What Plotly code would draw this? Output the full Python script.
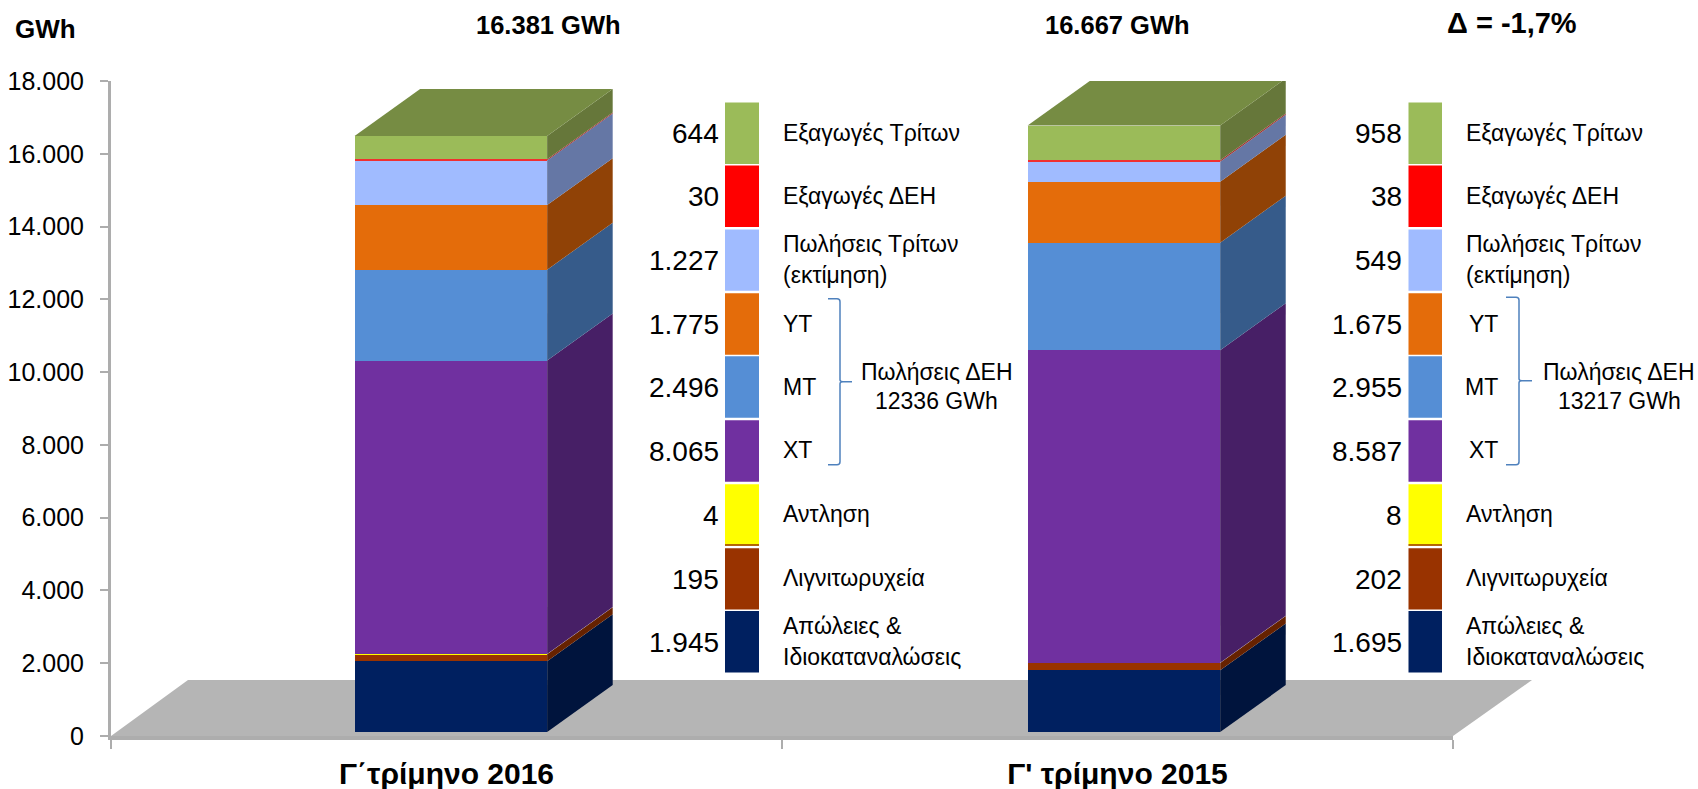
import plotly.graph_objects as go
from itertools import accumulate

# ---------- data ----------
categories = ["Γ΄τρίμηνο 2016", "Γ' τρίμηνο 2015"]
series_names = ["Απώλειες &<br>Ιδιοκαταναλώσεις", "Λιγνιτωρυχεία", "Αντληση", "ΧΤ", "ΜΤ", "ΥΤ",
                "Πωλήσεις Τρίτων<br>(εκτίμηση)", "Εξαγωγές ΔΕΗ", "Εξαγωγές Τρίτων"]
values_2016 = [1945, 195, 4, 8065, 2496, 1775, 1227, 30, 644]
values_2015 = [1695, 202, 8, 8587, 2955, 1675, 549, 38, 958]
totals = ["16.381 GWh", "16.667 GWh"]
delta_label = "Δ = -1,7%"
group_labels = ["Πωλήσεις ΔΕΗ<br>12336 GWh", "Πωλήσεις ΔΕΗ<br>13217 GWh"]
y_ticks = [0, 2000, 4000, 6000, 8000, 10000, 12000, 14000, 16000, 18000]
y_tick_labels = ["0", "2.000", "4.000", "6.000", "8.000", "10.000", "12.000", "14.000", "16.000", "18.000"]

# ---------- style ----------
front_colors = ["#002060", "#993300", "#FFFF00", "#7030A0", "#558ED5", "#E46C0A", "#A0BBFF", "#F03030", "#9BBB59"]
side_colors = ["#00143D", "#662200", "#AAAA00", "#471F66", "#365B8A", "#904206", "#6577A5", "#A03030", "#66773A"]
legend_colors = ["#002060", "#993300", "#FFFF00", "#7030A0", "#558ED5", "#E46C0A", "#A0BBFF", "#FF0000", "#9BBB59"]
top_color = "#768C43"
FONT = "Liberation Sans"
W, H = 1698, 789
L, R, T, B = 111, 1453, 80.5, 736          # plot area in pixels
BAR_OFFSETS, BAR_WIDTH = [-0.137, -0.134], 0.287   # category units
DEPTH_X, DEPTH_Y = 0.0977, 1290            # oblique depth, axis units
BASE = 110                                 # front plane sits slightly above the axis floor


def px(x):
    return (x - L) / (R - L)


def py(y):
    return (B - y) / (B - T)


fig = go.Figure()

# front faces
for i in range(len(series_names)):
    vals = [values_2016[i], values_2015[i]]
    bases = [BASE + sum(values_2016[:i]), BASE + sum(values_2015[:i])]
    fig.add_trace(go.Bar(x=[0, 1], y=vals, base=bases, width=BAR_WIDTH, offset=BAR_OFFSETS,
                         marker=dict(color=front_colors[i], line_width=0),
                         name=series_names[i].replace("<br>", " "), showlegend=False, hoverinfo="skip",
                         cliponaxis=False))

# side and top faces
for c, vals in enumerate([values_2016, values_2015]):
    xl = c + BAR_OFFSETS[c]
    xr = xl + BAR_WIDTH
    cum = [BASE] + [BASE + v for v in accumulate(vals)]
    for i in range(len(vals)):
        lo, hi = cum[i], cum[i + 1]
        fig.add_trace(go.Scatter(x=[xr, xr + DEPTH_X, xr + DEPTH_X, xr, xr],
                                 y=[lo, lo + DEPTH_Y, hi + DEPTH_Y, hi, lo],
                                 mode="lines", fill="toself", fillcolor=side_colors[i],
                                 line=dict(width=0), showlegend=False, hoverinfo="skip", cliponaxis=False))
    t = cum[-1]
    fig.add_trace(go.Scatter(x=[xl, xl + DEPTH_X, xr + DEPTH_X, xr, xl],
                             y=[t, t + DEPTH_Y, t + DEPTH_Y, t, t],
                             mode="lines", fill="toself", fillcolor=top_color,
                             line=dict(width=0), showlegend=False, hoverinfo="skip", cliponaxis=False))

shapes = []
annotations = []


def text(x, y, s, size, anchor="left", bold=False):
    annotations.append(dict(xref="paper", yref="paper", x=px(x), y=py(y), text=f"<b>{s}</b>" if bold else s,
                            showarrow=False, xanchor=anchor, yanchor="middle", xshift=0, yshift=0,
                            align="center", font=dict(family=FONT, size=size, color="#000000")))


# floor
shapes.append(dict(type="path", xref="paper", yref="paper", layer="below", line_width=0, fillcolor="#B5B5B5",
                   path=f"M{px(111)},{py(736)} L{px(188)},{py(680)} L{px(1532)},{py(680)} L{px(1453)},{py(736)} Z"))

# keyed swatch columns
row_tops = [102, 165, 229, 293, 356, 420, 484, 548, 611]
ROW_H = 61.5
legend_cols = [
    dict(vals=values_2016, sw=(725, 759), num=721, lab=780.5, tail=None),
    dict(vals=values_2015, sw=(1408.5, 1442), num=1404, lab=1464, tail=1500),
]
short = {"ΥΤ", "ΜΤ", "ΧΤ"}
LAB = 23
for col in legend_cols:
    for r, top in enumerate(row_tops):
        i = len(series_names) - 1 - r
        x0, x1 = col["sw"]
        shapes.append(dict(type="rect", xref="paper", yref="paper", line_width=0, fillcolor=legend_colors[i],
                           x0=px(x0), x1=px(x1), y0=py(top + ROW_H), y1=py(top)))
        if series_names[i] == "Αντληση":
            shapes.append(dict(type="rect", xref="paper", yref="paper", line_width=0, fillcolor="#993300",
                               x0=px(x0), x1=px(x1), y0=py(top + ROW_H), y1=py(top + ROW_H - 1.5)))
        cy = top + ROW_H / 2
        text(col["num"], cy + 0.5, f"{col['vals'][i]:,}".replace(",", "."), 28, anchor="right")
        name = series_names[i]
        lines = name.split("<br>")
        if len(lines) == 2:
            text(col["lab"], cy - 16, lines[0], LAB)
            text(col["lab"], cy + 15, lines[1], LAB)
        elif name in short and col["tail"]:
            text(col["tail"], cy - 0.5, name, LAB, anchor="right")
        else:
            text(col["lab"], cy - 0.5, name, LAB)


# group braces
def brace(x_end, x_spine, x_tip, y_top, y_mid, y_bot):
    p = (f"M{px(x_end)},{py(y_top)} L{px(x_spine - 3)},{py(y_top)} Q{px(x_spine)},{py(y_top)} {px(x_spine)},{py(y_top + 3)} "
         f"L{px(x_spine)},{py(y_mid - 2)} Q{px(x_spine)},{py(y_mid)} {px(x_spine + 3)},{py(y_mid)} L{px(x_tip)},{py(y_mid)} "
         f"L{px(x_spine + 3)},{py(y_mid)} Q{px(x_spine)},{py(y_mid)} {px(x_spine)},{py(y_mid + 2)} "
         f"L{px(x_spine)},{py(y_bot - 3)} Q{px(x_spine)},{py(y_bot)} {px(x_spine - 3)},{py(y_bot)} L{px(x_end)},{py(y_bot)}")
    shapes.append(dict(type="path", xref="paper", yref="paper", path=p, line=dict(color="#4F81BD", width=1.5)))


brace(828, 840, 852, 298.5, 381.5, 464.5)
brace(1506, 1519, 1532, 297, 380.5, 464.5)
for cx, s in zip([936.5, 1619], group_labels):
    a, b = s.split("<br>")
    text(cx, 372, a, LAB, anchor="center")
    text(cx, 400.5, b, LAB, anchor="center")

# titles
text(45, 28, "GWh", 26, anchor="center", bold=True)
text(548, 24, totals[0], 25.5, anchor="center", bold=True)
text(1117, 24, totals[1], 25.5, anchor="center", bold=True)
text(1512, 22, delta_label, 29, anchor="center", bold=True)

axis_grey = "#ADADAD"
fig.update_layout(
    width=W, height=H, autosize=False,
    margin=dict(l=L, r=W - R, t=T, b=H - B, pad=0, autoexpand=False),
    paper_bgcolor="white", plot_bgcolor="rgba(0,0,0,0)",
    barmode="overlay", bargap=0, showlegend=False,
    shapes=shapes, annotations=annotations,
    font=dict(family=FONT, color="#000000"),
    xaxis=dict(range=[-0.5, 1.5], tickmode="array", tickvals=[0, 1], ticktext=categories, automargin=False,
               ticks="", showgrid=False, zeroline=False, showline=True, linecolor=axis_grey, linewidth=4,
               tickfont=dict(family=FONT, size=30, color="#000000", weight="bold"),
               ticklabelstandoff=8,
               minor=dict(tickmode="array", tickvals=[-0.5, 0.5, 1.5], ticks="outside", ticklen=9,
                          tickcolor=axis_grey, tickwidth=2, showgrid=False)),
    yaxis=dict(range=[0, 18000], tickmode="array", tickvals=y_ticks, ticktext=y_tick_labels, automargin=False,
               ticks="outside", ticklen=8, tickcolor=axis_grey, tickwidth=2,
               showgrid=False, zeroline=False, showline=True, linecolor=axis_grey, linewidth=3,
               tickfont=dict(family=FONT, size=25, color="#000000"), ticklabelstandoff=11),
)
fig.write_html("out.html", post_script="document.body.style.margin='0';",
               config={"displayModeBar": False, "responsive": False})
